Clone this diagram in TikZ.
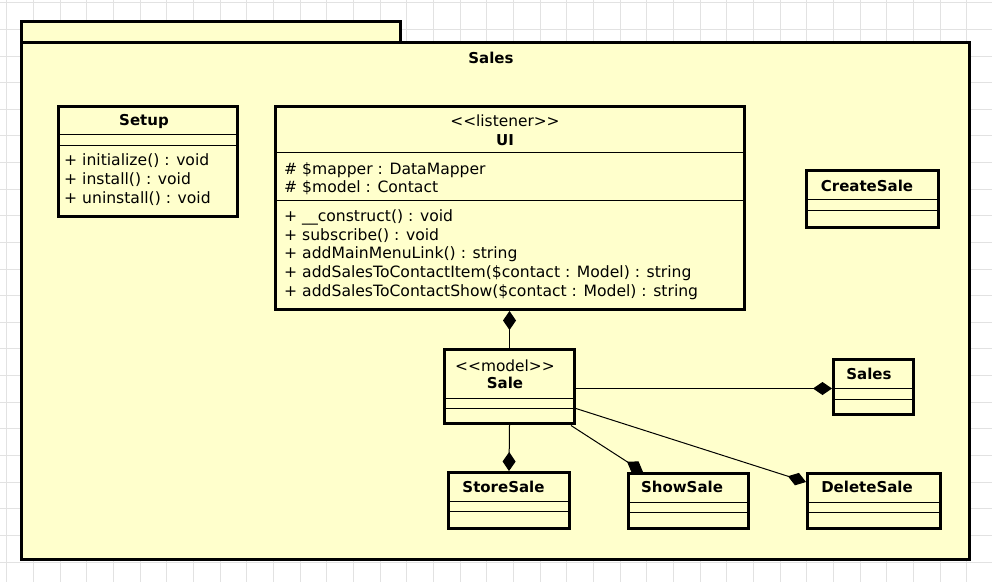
\documentclass[tikz,border=0pt]{standalone}
\usepackage{fontspec}
\setmainfont{DejaVu Sans}
\usetikzlibrary{arrows.meta,calc}
\definecolor{umlfill}{RGB}{255,255,204}
\definecolor{gridgray}{RGB}{226,226,226}
\begin{document}
\begin{tikzpicture}[x=1pt,y=-1pt,
  gridline/.style={draw=gridgray, line width=1pt},
  pkgbox/.style={draw=black, line width=3pt, fill=umlfill, rectangle, inner sep=0pt, anchor=north west},
  cls/.style={draw=black, line width=3pt, fill=umlfill, rectangle, inner sep=0pt, anchor=north west},
  sepline/.style={draw=black, line width=0.9pt},
  titletext/.style={font=\bfseries\fontsize{15}{18}\selectfont, inner sep=0pt, text height=13pt, text depth=3pt},
  stereotext/.style={font=\fontsize{15.4}{18}\selectfont, inner sep=0pt, text height=13pt, text depth=3pt},
  membertext/.style={font=\fontsize{15.6}{18}\selectfont, inner sep=0pt, text height=13pt, text depth=3pt, anchor=west},
  comp/.style={draw=black, line width=1pt, -{Diamond[length=19pt,width=13pt]}}
]
\useasboundingbox (0,0) rectangle (992,582);
\fill[white] (0,0) rectangle (992,582);
% grid
\foreach \k in {0,...,37} \draw[gridline] ({6.67+26.667*\k},0) -- ({6.67+26.667*\k},582);
\foreach \k in {0,...,21} \draw[gridline] (0,{2.8+26.63*\k}) -- (992,{2.8+26.63*\k});

% package
\node[pkgbox, minimum width=379pt, minimum height=21pt] (tab) at (20,20) {};
\node[pkgbox, minimum width=948pt, minimum height=517pt] (pkg) at (20,41) {};
\node[titletext] (pkgT) at (491,58) {Sales};

% classes
\node[cls, minimum width=179pt, minimum height=110pt] (setup) at (57,105) {};
\node[cls, minimum width=469pt, minimum height=203pt] (ui) at (274,105) {};
\node[cls, minimum width=132pt, minimum height=57pt] (createsale) at (805,169) {};
\node[cls, minimum width=130pt, minimum height=74pt] (sale) at (443,348) {};
\node[cls, minimum width=80pt, minimum height=55pt] (sales) at (832,358) {};
\node[cls, minimum width=121pt, minimum height=56pt] (storesale) at (447,471) {};
\node[cls, minimum width=120pt, minimum height=55pt] (showsale) at (627,472) {};
\node[cls, minimum width=133pt, minimum height=55pt] (deletesale) at (806,472) {};

% separators
\draw[sepline] (setup.west |- 0,134) -- (setup.east |- 0,134);
\draw[sepline] (setup.west |- 0,145) -- (setup.east |- 0,145);
\draw[sepline] (ui.west |- 0,152) -- (ui.east |- 0,152);
\draw[sepline] (ui.west |- 0,200) -- (ui.east |- 0,200);
\draw[sepline] (createsale.west |- 0,199) -- (createsale.east |- 0,199);
\draw[sepline] (createsale.west |- 0,210) -- (createsale.east |- 0,210);
\draw[sepline] (sale.west |- 0,398) -- (sale.east |- 0,398);
\draw[sepline] (sale.west |- 0,408) -- (sale.east |- 0,408);
\draw[sepline] (sales.west |- 0,388) -- (sales.east |- 0,388);
\draw[sepline] (sales.west |- 0,399) -- (sales.east |- 0,399);
\draw[sepline] (storesale.west |- 0,501) -- (storesale.east |- 0,501);
\draw[sepline] (storesale.west |- 0,511) -- (storesale.east |- 0,511);
\draw[sepline] (showsale.west |- 0,502) -- (showsale.east |- 0,502);
\draw[sepline] (showsale.west |- 0,512) -- (showsale.east |- 0,512);
\draw[sepline] (deletesale.west |- 0,502) -- (deletesale.east |- 0,502);
\draw[sepline] (deletesale.west |- 0,512) -- (deletesale.east |- 0,512);

% texts: Setup
\node[titletext] (setupT) at (144,120) {Setup};
\node[membertext] (setupM1) at (64,160.5) {+ initialize() : void};
\node[membertext] (setupM2) at (64,179.5) {+ install() : void};
\node[membertext] (setupM3) at (64,198.5) {+ uninstall() : void};

% texts: UI
\node[stereotext] (uiS) at (505,121.5) {<{}<listener>{}>};
\node[titletext] (uiT) at (505,140) {UI};
\node[membertext] (uiA1) at (284,169) {\# \$mapper : DataMapper};
\node[membertext] (uiA2) at (284,187.5) {\# \$model : Contact};
\node[membertext] (uiM1) at (284,216.5) {+ \_\_construct() : void};
\node[membertext] (uiM2) at (284,235) {+ subscribe() : void};
\node[membertext] (uiM3) at (284,253.5) {+ addMainMenuLink() : string};
\node[membertext] (uiM4) at (284,272.5) {+ addSalesToContactItem(\$contact : Model) : string};
\node[membertext] (uiM5) at (284,291.5) {+ addSalesToContactShow(\$contact : Model) : string};

% texts: others
\node[titletext] (createsaleT) at (867,186) {CreateSale};
\node[stereotext] (saleS) at (505,366.5) {<{}<model>{}>};
\node[titletext] (saleT) at (505,383) {Sale};
\node[titletext] (salesT) at (869,374) {Sales};
\node[titletext] (storesaleT) at (503.5,487) {StoreSale};
\node[titletext] (showsaleT) at (682,487) {ShowSale};
\node[titletext] (deletesaleT) at (867,487) {DeleteSale};

% connectors (composition)
\draw[comp] (sale.north) -- (sale.north |- ui.south);
\draw[comp] (sale.south) -- (storesale.north);
\draw[comp] ($(sale.east)+(0,2)$) -- ($(sales.west)+(0,1.5)$);
\draw[comp] ($(sale.south east)+(-5,0.5)$) -- ($(showsale.north west)+(16,0)$);
\draw[comp] ($(sale.east)+(0,22)$) -- ($(deletesale.west)+(0,-19)$);
\end{tikzpicture}
\end{document}
